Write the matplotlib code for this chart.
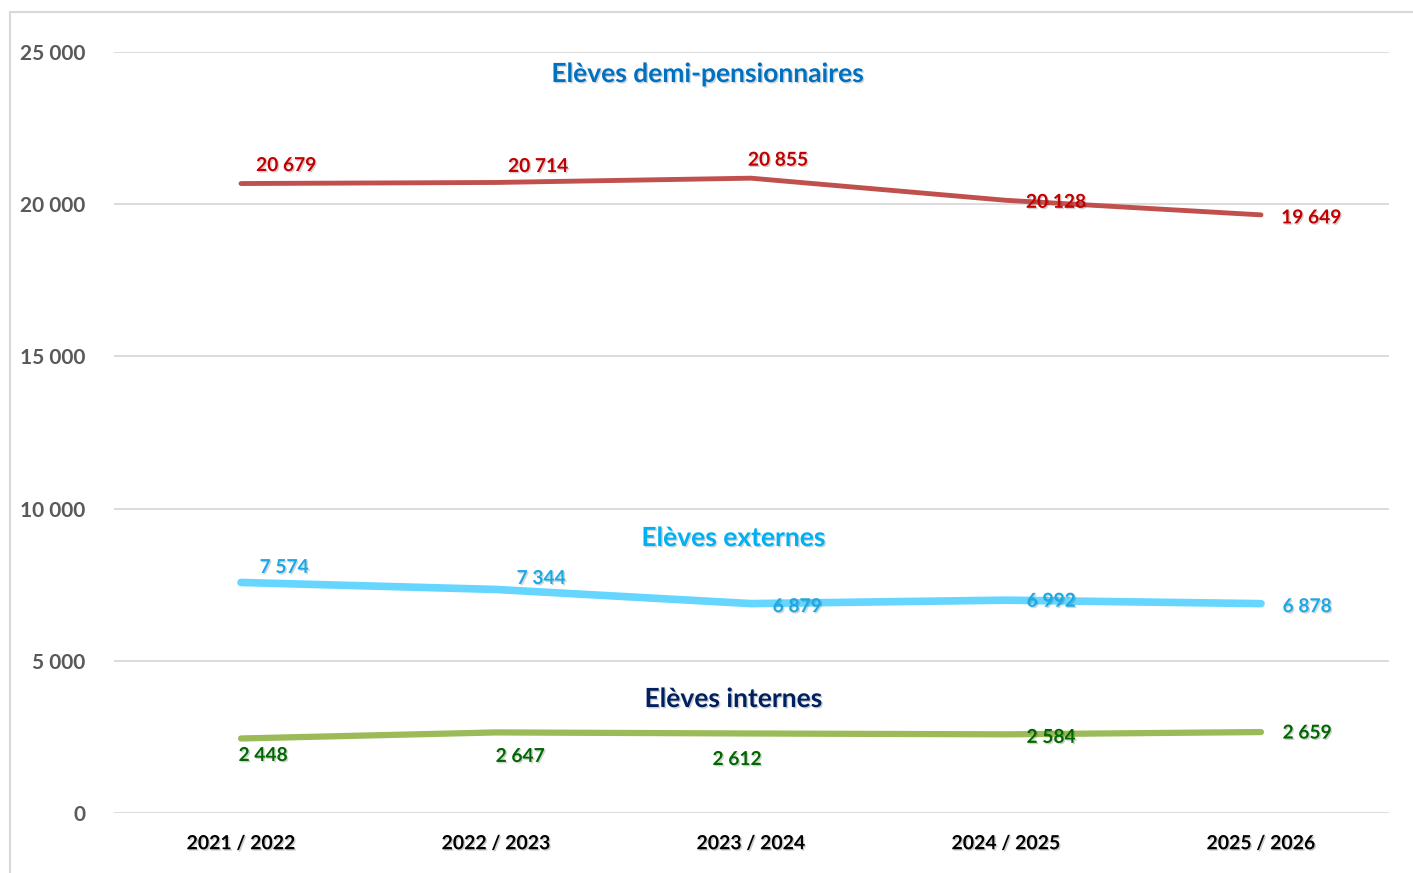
import matplotlib.pyplot as plt
import matplotlib.patheffects as pe
from matplotlib.patches import Rectangle

plt.rcParams['font.family'] = ['Lato', 'DejaVu Sans']

years = ["2021 / 2022", "2022 / 2023", "2023 / 2024", "2024 / 2025", "2025 / 2026"]
demi = [20679, 20714, 20855, 20128, 19649]
externes = [7574, 7344, 6879, 6992, 6878]
internes = [2448, 2647, 2612, 2584, 2659]

# label offsets in pixels (dx, dy) for each point
demi_off = [(45, 18), (42, 16), (27, 18), (50, -2), (50, -3)]
ext_off = [(43, 15), (45, 11), (46, -3), (45, -1), (46, -3)]
int_off = [(22, -17), (24, -24), (-14, -26), (45, -3), (46, -1)]


def fmt(v):
    return f"{v:,}".replace(",", " ")


fig = plt.figure(figsize=(14.13, 8.73), dpi=100)
fig.patches.append(Rectangle((10 / 1413, -0.01), 1.1, 1 - 12 / 873 + 0.01,
                             transform=fig.transFigure, fill=False,
                             edgecolor='#D9D9D9', linewidth=1.5))
ax = fig.add_axes([113.5 / 1413, 1 - 813 / 873, 1275 / 1413, 761 / 873])

x = list(range(len(years)))
shadow = [pe.SimplePatchShadow(offset=(1, -1), alpha=0.2), pe.Normal()]

series = [
    (demi, '#C0504D', 3.5, '#C00000', demi_off),
    (externes, '#66D6FF', 5.5, '#1AA8E6', ext_off),
    (internes, '#9BBB59', 4.5, '#006600', int_off),
]
for vals, lc, lw, tc, offs in series:
    ax.plot(x, vals, color=lc, linewidth=lw, solid_capstyle='round', zorder=3)
    for xi, v, (dx, dy) in zip(x, vals, offs):
        ax.annotate(fmt(v), (xi, v), xytext=(dx, dy), textcoords='offset pixels',
                    ha='center', va='center', fontsize=13.8, fontweight='bold',
                    color=tc, zorder=4, path_effects=shadow)

ax.text(2 - 44 / 255, 25000 - 22 / 761 * 25000, "Elèves demi-pensionnaires",
        ha='center', va='center', fontsize=19, fontweight='bold', color='#0070C0',
        path_effects=shadow)
ax.text(2 - 18 / 255, 25000 - 486 / 761 * 25000, "Elèves externes",
        ha='center', va='center', fontsize=19, fontweight='bold', color='#00B0F0',
        path_effects=shadow)
ax.text(2 - 18 / 255, 25000 - 647 / 761 * 25000, "Elèves internes",
        ha='center', va='center', fontsize=19, fontweight='bold', color='#002060',
        path_effects=shadow)

ax.set_xlim(-0.5, len(years) - 0.5)
ax.set_ylim(0, 25000)
ax.set_yticks(range(0, 25001, 5000))
ax.set_yticklabels([fmt(v) for v in range(0, 25001, 5000)], fontsize=15,
                   fontweight='bold', color='#595959')
ax.set_xticks(x)
ax.set_xticklabels(years, fontsize=14, fontweight='bold', color='black')
for lab in ax.get_xticklabels():
    lab.set_path_effects(shadow)
ax.tick_params(axis='both', length=0)
ax.tick_params(axis='y', pad=20)
ax.tick_params(axis='x', pad=16)
ax.grid(axis='y', color='#D9D9D9', linewidth=1.3)
ax.set_axisbelow(True)
for s in ax.spines.values():
    s.set_visible(False)

fig.savefig("out.png", dpi=100)
